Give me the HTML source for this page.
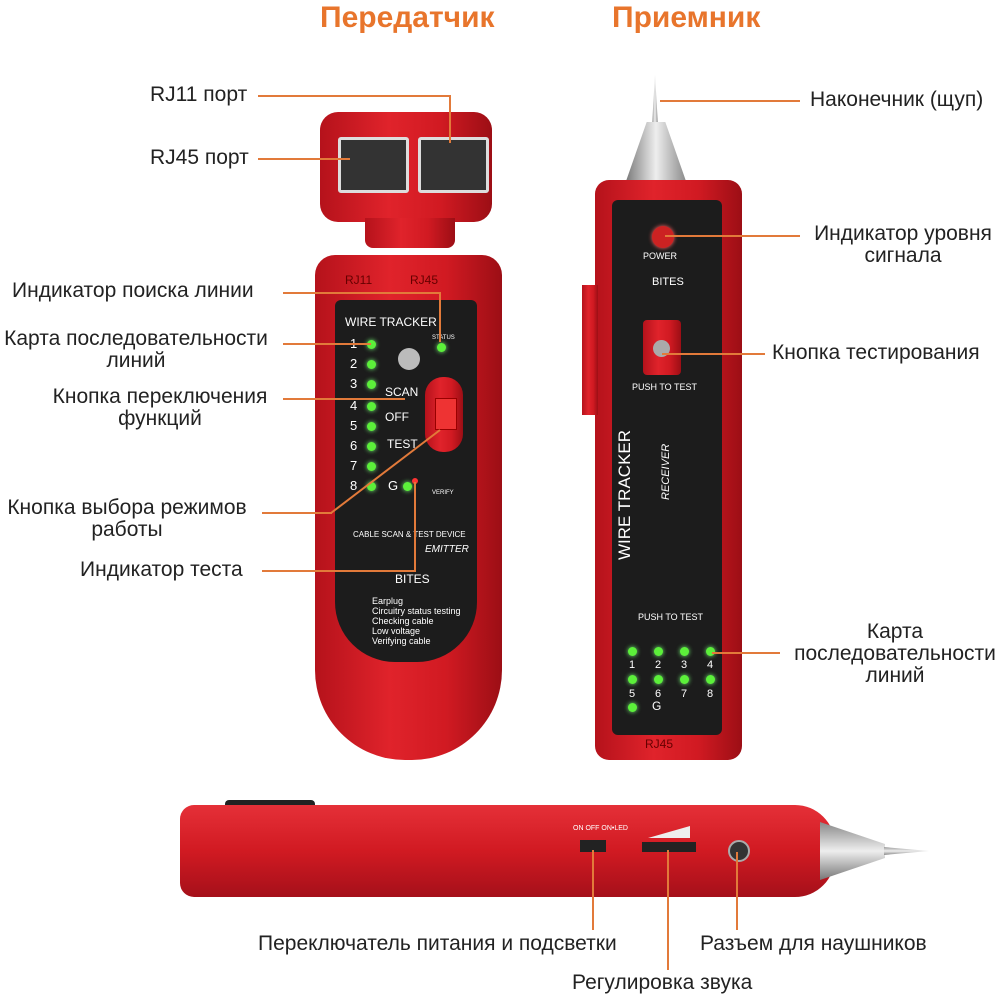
<!DOCTYPE html>
<html><head><meta charset="utf-8"><style>
body{margin:0;width:1000px;height:1000px;background:#fff;position:relative;overflow:hidden;font-family:"Liberation Sans","DejaVu Sans",sans-serif;color:#222}
.a{position:absolute}
.t{position:absolute;font-size:21px;line-height:22px;white-space:nowrap}
.h{position:absolute;font-size:30px;font-weight:bold;color:#e8752c;top:1px}
.l{position:absolute;background:#e27a3a}
.red{background:linear-gradient(90deg,#b5121b,#e0232b 40%,#d11a22 70%,#9c0e15)}
.blk{background:#1c1c1c}
.led{position:absolute;width:9px;height:9px;border-radius:50%;background:#5cf03a;box-shadow:0 0 5px #7f7}
.w{position:absolute;color:#fff;font-size:13px}
.ws{position:absolute;color:#fff;font-size:9px;white-space:nowrap}
</style></head><body>
<div class="h" style="left:320px">Передатчик</div>
<div class="h" style="left:612px">Приемник</div>

<!-- transmitter top module -->
<div class="a red" style="left:320px;top:112px;width:172px;height:110px;border-radius:18px"></div>
<div class="a red" style="left:365px;top:218px;width:90px;height:30px;border-radius:0 0 8px 8px"></div>
<div class="a" style="left:338px;top:137px;width:65px;height:50px;background:#333;border:3px solid #ddd;border-radius:3px"></div>
<div class="a" style="left:418px;top:137px;width:65px;height:50px;background:#333;border:3px solid #ddd;border-radius:3px"></div>
<!-- transmitter body -->
<div class="a red" style="left:315px;top:255px;width:187px;height:505px;border-radius:20px 20px 90px 90px"></div>
<div class="a blk" style="left:335px;top:300px;width:142px;height:362px;border-radius:6px 6px 60px 60px"></div>
<div class="ws" style="left:345px;top:273px;font-size:12px;color:#600">RJ11</div>
<div class="ws" style="left:410px;top:273px;font-size:12px;color:#600">RJ45</div>
<div class="ws" style="left:345px;top:315px;font-size:12px">WIRE TRACKER</div>
<div class="ws" style="left:432px;top:335px;font-size:6px">STATUS</div>
<div class="led" style="left:437px;top:343px"></div>
<div class="a" style="left:398px;top:348px;width:22px;height:22px;border-radius:50%;background:#bbb"></div>
<div class="w" style="left:350px;top:336px">1</div><div class="led" style="left:367px;top:340px"></div>
<div class="w" style="left:350px;top:356px">2</div><div class="led" style="left:367px;top:360px"></div>
<div class="w" style="left:350px;top:376px">3</div><div class="led" style="left:367px;top:380px"></div>
<div class="w" style="left:350px;top:398px">4</div><div class="led" style="left:367px;top:402px"></div>
<div class="w" style="left:350px;top:418px">5</div><div class="led" style="left:367px;top:422px"></div>
<div class="w" style="left:350px;top:438px">6</div><div class="led" style="left:367px;top:442px"></div>
<div class="w" style="left:350px;top:458px">7</div><div class="led" style="left:367px;top:462px"></div>
<div class="w" style="left:350px;top:478px">8</div><div class="led" style="left:367px;top:482px"></div>
<div class="w" style="left:385px;top:385px;font-size:12px">SCAN</div>
<div class="w" style="left:385px;top:410px;font-size:12px">OFF</div>
<div class="w" style="left:387px;top:437px;font-size:12px">TEST</div>
<div class="w" style="left:388px;top:478px">G</div><div class="led" style="left:403px;top:482px"></div>
<div class="a red" style="left:425px;top:377px;width:38px;height:75px;border-radius:18px"></div>
<div class="a" style="left:435px;top:398px;width:20px;height:30px;background:#e33;border:1px solid #900"></div>
<div class="a" style="left:412px;top:478px;width:6px;height:6px;border-radius:50%;background:#f33"></div>
<div class="ws" style="left:432px;top:490px;font-size:6px">VERIFY</div>
<div class="ws" style="left:353px;top:530px;font-size:8px">CABLE SCAN &amp; TEST DEVICE</div>
<div class="ws" style="left:425px;top:544px;font-size:10px;font-style:italic">EMITTER</div>
<div class="ws" style="left:395px;top:572px;font-size:12px">BITES</div>
<div class="ws" style="left:372px;top:596px">Earplug<br>Circuitry status testing<br>Checking cable<br>Low voltage<br>Verifying cable</div>

<!-- receiver -->
<div class="a" style="left:652px;top:75px;width:6px;height:50px;background:linear-gradient(90deg,#999,#eee,#888);clip-path:polygon(50% 0,100% 100%,0 100%)"></div>
<div class="a" style="left:625px;top:122px;width:62px;height:62px;background:linear-gradient(90deg,#777,#eee,#888);clip-path:polygon(35% 0,65% 0,100% 100%,0 100%)"></div>
<div class="a red" style="left:595px;top:180px;width:147px;height:580px;border-radius:14px"></div>
<div class="a red" style="left:582px;top:285px;width:16px;height:130px"></div>
<div class="a blk" style="left:612px;top:200px;width:110px;height:535px;border-radius:6px"></div>
<div class="a" style="left:652px;top:226px;width:22px;height:22px;border-radius:50%;background:#c22;box-shadow:0 0 4px #f66"></div>
<div class="ws" style="left:643px;top:251px">POWER</div>
<div class="ws" style="left:652px;top:276px;font-size:11px">BITES</div>
<div class="a red" style="left:643px;top:320px;width:38px;height:55px;border-radius:4px"></div>
<div class="a" style="left:653px;top:340px;width:17px;height:17px;border-radius:50%;background:#aaa"></div>
<div class="ws" style="left:632px;top:382px">PUSH TO TEST</div>
<div class="ws" style="left:615px;top:560px;font-size:17px;transform:rotate(-90deg);transform-origin:left top">WIRE TRACKER</div>
<div class="ws" style="left:660px;top:500px;font-size:11px;font-style:italic;transform:rotate(-90deg);transform-origin:left top">RECEIVER</div>
<div class="ws" style="left:638px;top:612px">PUSH TO TEST</div>
<div class="led" style="left:628px;top:647px"></div><div class="led" style="left:654px;top:647px"></div><div class="led" style="left:680px;top:647px"></div><div class="led" style="left:706px;top:647px"></div>
<div class="ws" style="left:629px;top:659px;font-size:11px">1</div><div class="ws" style="left:655px;top:659px;font-size:11px">2</div><div class="ws" style="left:681px;top:659px;font-size:11px">3</div><div class="ws" style="left:707px;top:659px;font-size:11px">4</div>
<div class="led" style="left:628px;top:675px"></div><div class="led" style="left:654px;top:675px"></div><div class="led" style="left:680px;top:675px"></div><div class="led" style="left:706px;top:675px"></div>
<div class="ws" style="left:629px;top:688px;font-size:11px">5</div><div class="ws" style="left:655px;top:688px;font-size:11px">6</div><div class="ws" style="left:681px;top:688px;font-size:11px">7</div><div class="ws" style="left:707px;top:688px;font-size:11px">8</div>
<div class="led" style="left:628px;top:703px"></div><div class="ws" style="left:652px;top:699px;font-size:12px">G</div>
<div class="ws" style="left:645px;top:737px;font-size:12px;color:#600">RJ45</div>

<!-- bottom device -->
<div class="a" style="left:225px;top:800px;width:90px;height:12px;background:#222;border-radius:4px"></div>
<div class="a red" style="left:180px;top:805px;width:655px;height:92px;border-radius:14px 40px 40px 14px;background:linear-gradient(180deg,#e53038,#d11a22 50%,#a5101a)"></div>
<div class="a" style="left:820px;top:822px;width:65px;height:58px;background:linear-gradient(180deg,#888,#eee,#777);clip-path:polygon(0 0,100% 38%,100% 62%,0 100%)"></div>
<div class="a" style="left:884px;top:847px;width:45px;height:8px;background:linear-gradient(180deg,#999,#eee,#888);clip-path:polygon(0 0,100% 50%,0 100%)"></div>
<div class="ws" style="left:573px;top:825px;font-size:7px">ON OFF ON•LED</div>
<div class="a" style="left:580px;top:840px;width:26px;height:12px;background:#222"></div>
<div class="a" style="left:648px;top:826px;width:42px;height:12px;background:#eee;clip-path:polygon(0 100%,100% 0,100% 100%)"></div>
<div class="a" style="left:642px;top:842px;width:54px;height:10px;background:#222"></div>
<div class="a" style="left:728px;top:840px;width:18px;height:18px;border-radius:50%;background:#333;border:2px solid #aaa"></div>

<!-- labels -->
<div class="t" style="left:150px;top:84px">RJ11 порт</div>
<div class="t" style="left:150px;top:147px">RJ45 порт</div>
<div class="t" style="left:12px;top:280px">Индикатор поиска линии</div>
<div class="t" style="left:-4px;top:328px;width:280px;text-align:center">Карта последовательности<br>линий</div>
<div class="t" style="left:40px;top:386px;width:240px;text-align:center">Кнопка переключения<br>функций</div>
<div class="t" style="left:0;top:497px;width:254px;text-align:center">Кнопка выбора режимов<br>работы</div>
<div class="t" style="left:80px;top:559px">Индикатор теста</div>
<div class="t" style="left:810px;top:89px">Наконечник (щуп)</div>
<div class="t" style="left:806px;top:223px;width:194px;text-align:center">Индикатор уровня<br>сигнала</div>
<div class="t" style="left:772px;top:342px">Кнопка тестирования</div>
<div class="t" style="left:785px;top:621px;width:220px;text-align:center">Карта<br>последовательности<br>линий</div>
<div class="t" style="left:258px;top:933px">Переключатель питания и подсветки</div>
<div class="t" style="left:700px;top:933px">Разъем для наушников</div>
<div class="t" style="left:572px;top:972px">Регулировка звука</div>

<!-- leader lines -->
<div class="l" style="left:258px;top:95px;width:193px;height:2px"></div>
<div class="l" style="left:449px;top:95px;width:2px;height:48px"></div>
<div class="l" style="left:258px;top:158px;width:92px;height:2px"></div>
<div class="l" style="left:283px;top:292px;width:158px;height:2px"></div>
<div class="l" style="left:439px;top:292px;width:2px;height:50px"></div>
<div class="l" style="left:283px;top:343px;width:88px;height:2px"></div>
<div class="l" style="left:283px;top:398px;width:122px;height:2px"></div>
<div class="l" style="left:262px;top:512px;width:70px;height:2px"></div>
<svg class="a" style="left:0;top:0" width="1000" height="1000"><line x1="331" y1="513" x2="440" y2="430" stroke="#e27a3a" stroke-width="2"/><line x1="415" y1="571" x2="415" y2="482" stroke="#e27a3a" stroke-width="2"/></svg>
<div class="l" style="left:262px;top:570px;width:154px;height:2px"></div>
<div class="l" style="left:660px;top:100px;width:140px;height:2px"></div>
<div class="l" style="left:665px;top:235px;width:135px;height:2px"></div>
<div class="l" style="left:662px;top:353px;width:103px;height:2px"></div>
<div class="l" style="left:712px;top:652px;width:68px;height:2px"></div>
<div class="l" style="left:592px;top:850px;width:2px;height:80px"></div>
<div class="l" style="left:667px;top:850px;width:2px;height:120px"></div>
<div class="l" style="left:736px;top:852px;width:2px;height:78px"></div>
</body></html>
